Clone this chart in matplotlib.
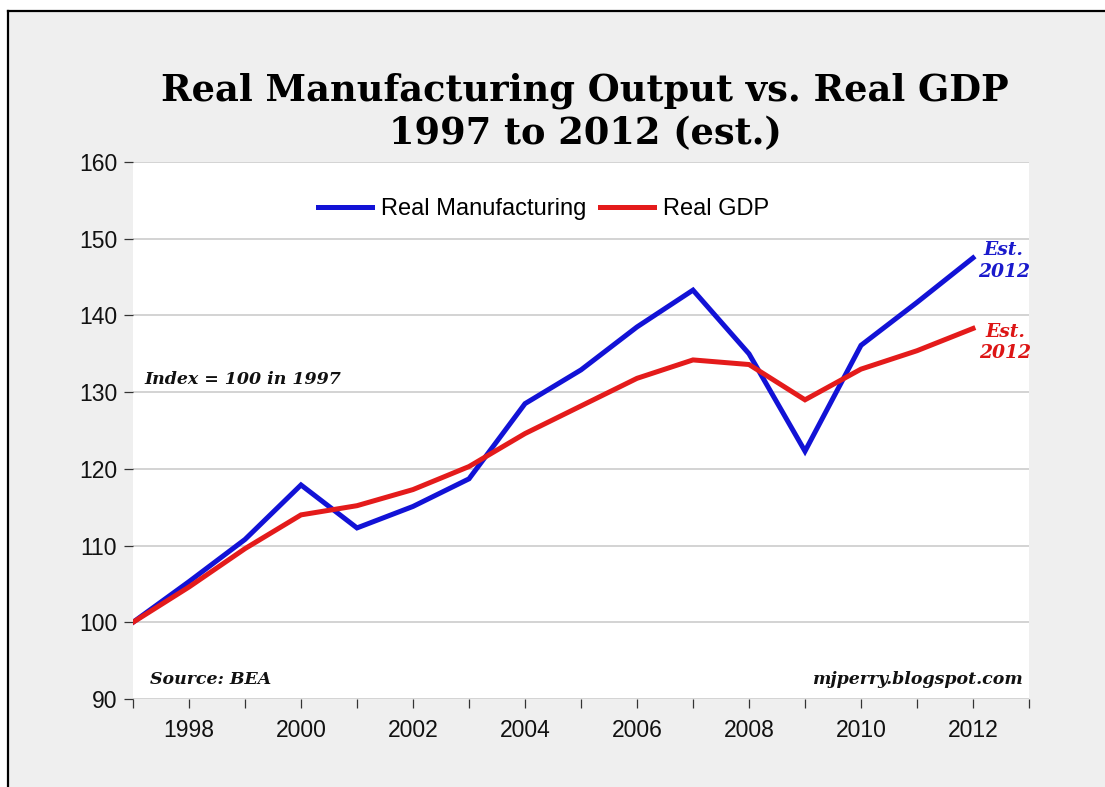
import matplotlib.pyplot as plt
from matplotlib.patches import Rectangle
from matplotlib.lines import Line2D

# index values, 1997 = 100
years = [1997, 1998, 1999, 2000, 2001, 2002, 2003, 2004,
         2005, 2006, 2007, 2008, 2009, 2010, 2011, 2012]
manufacturing = [100.0, 105.3, 110.8, 117.9, 112.3, 115.1, 118.7, 128.5,
                 132.9, 138.5, 143.3, 135.0, 122.3, 136.1, 141.7, 147.5]
gdp = [100.0, 104.6, 109.6, 114.0, 115.2, 117.3, 120.3, 124.6,
       128.2, 131.8, 134.2, 133.6, 129.0, 133.0, 135.4, 138.3]

x_ticks = list(range(1997, 2014))
x_labels = [str(y) if y % 2 == 0 else '' for y in x_ticks]
y_ticks = [90, 100, 110, 120, 130, 140, 150, 160]

W, H = 1105, 787
BLUE = '#1212d6'
RED = '#e41b1b'
SANS = 'Liberation Sans'
SERIF = 'DejaVu Serif'

fig = plt.figure(figsize=(W / 100, H / 100), dpi=100)
fig.patch.set_facecolor('white')

# grey panel, only the top and left edges of the black frame show
fx, fy = 8 / W, 1 - 10.5 / H
fig.patches.append(Rectangle((fx, 0), 1 - fx, fy, transform=fig.transFigure,
                             facecolor='#efefef', edgecolor='none', zorder=-10))
fig.lines.append(Line2D([fx, 1], [fy, fy], transform=fig.transFigure,
                        color='black', lw=1.6))
fig.lines.append(Line2D([fx, fx], [0, fy], transform=fig.transFigure,
                        color='black', lw=1.6))

ax = fig.add_axes([133 / W, (H - 699) / H, 896 / W, 537 / H])
ax.set_facecolor('white')

ax.plot(years, manufacturing, color=BLUE, lw=3.6, label='Real Manufacturing',
        solid_joinstyle='miter', zorder=3)
ax.plot(years, gdp, color=RED, lw=3.6, label='Real GDP',
        solid_joinstyle='miter', zorder=3)

ax.set_xlim(1997, 2013)
ax.set_ylim(90, 160)
ax.set_xticks(x_ticks)
ax.set_xticklabels(x_labels)
ax.set_yticks(y_ticks)

for s in ax.spines.values():
    s.set_visible(False)
ax.grid(axis='y', color='#c8c8c8', lw=1.1)
ax.set_axisbelow(True)
ax.tick_params(axis='both', direction='out', length=6.5, width=0.9,
               color='#333333', labelsize=16.5, labelcolor='#111111')
ax.tick_params(axis='x', pad=8)
ax.tick_params(axis='y', pad=5)
for lab in ax.get_xticklabels() + ax.get_yticklabels():
    lab.set_family(SANS)

leg = ax.legend(loc='center', bbox_to_anchor=(0.458, 0.912), ncol=2,
                frameon=False, prop={'family': SANS, 'size': 17},
                handlelength=2.3, handletextpad=0.35, columnspacing=0.6)

fig.text(585 / W, 1 - 91 / H, 'Real Manufacturing Output vs. Real GDP',
         ha='center', va='center', family=SERIF, weight='bold', size=26.5)
fig.text(585 / W, 1 - 134 / H, '1997 to 2012 (est.)',
         ha='center', va='center', family=SERIF, weight='bold', size=26.5)

note = dict(family=SERIF, weight='bold', style='italic', size=12.5,
            color='#111111')
ax.text(1997.21, 131.6, 'Index = 100 in 1997', ha='left', va='center', **note)
ax.text(1997.3, 92.5, 'Source: BEA', ha='left', va='center', **note)
ax.text(2012.88, 92.5, 'mjperry.blogspot.com', ha='right', va='center', **note)

est = dict(family=SERIF, weight='bold', style='italic', size=13.5,
           ha='center', va='center', linespacing=1.25)
ax.text(2012.55, 147.1, 'Est.\n2012', color='#1a1acc', **est)
ax.text(2012.57, 136.5, 'Est.\n2012', color='#dd1515', **est)

fig.savefig('out.png', dpi=100, facecolor=fig.get_facecolor())
